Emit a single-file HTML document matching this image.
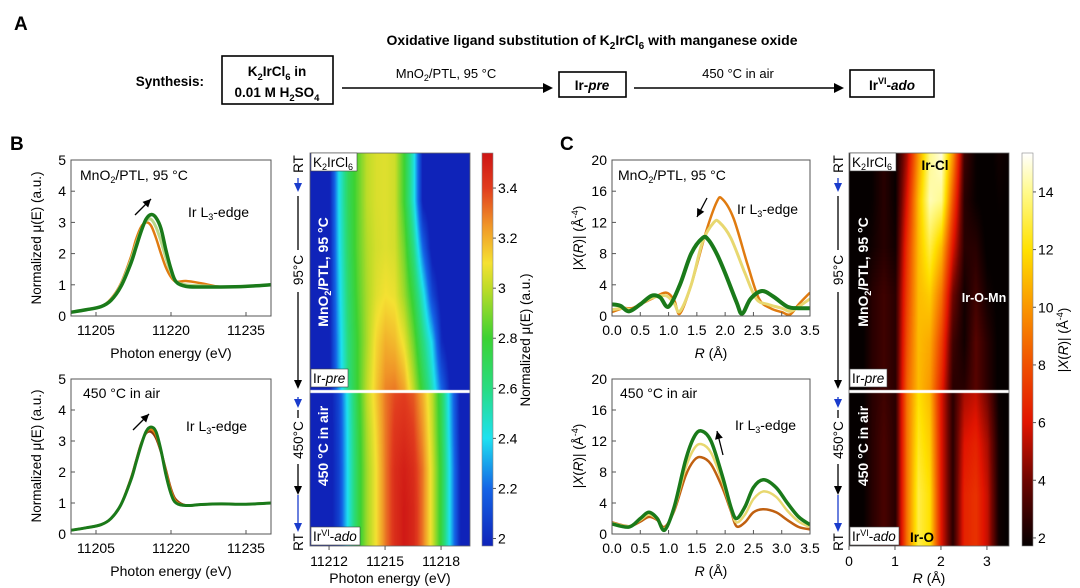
<!DOCTYPE html>
<html><head><meta charset="utf-8">
<style>
html,body{margin:0;padding:0;background:#fff;}
body{width:1080px;height:588px;overflow:hidden;position:relative;font-family:"Liberation Sans",Arial,sans-serif;}
svg text{font-family:"Liberation Sans",Arial,sans-serif;}
canvas{position:absolute;}
</style></head>
<body>
<svg id="fig" width="1080" height="588" viewBox="0 0 1080 588" style="position:absolute;left:0;top:0">
<g>
<text x="14" y="30" font-size="19" font-weight="bold">A</text>
<text x="592" y="45" font-size="14" font-weight="bold" text-anchor="middle">Oxidative ligand substitution of K<tspan font-size="10" dy="4">2</tspan><tspan dy="-4">IrCl</tspan><tspan font-size="10" dy="4">6</tspan><tspan dy="-4"> with manganese oxide</tspan></text>
<text x="204" y="86" font-size="13.5" font-weight="bold" text-anchor="end">Synthesis:</text>
<rect x="222" y="56" width="111" height="48" fill="none" stroke="#000" stroke-width="1.6"/>
<text x="277" y="76" font-size="13.5" font-weight="bold" text-anchor="middle">K<tspan font-size="9.5" dy="4">2</tspan><tspan dy="-4">IrCl</tspan><tspan font-size="9.5" dy="4">6</tspan><tspan dy="-4"> in</tspan></text>
<text x="277" y="97" font-size="13.5" font-weight="bold" text-anchor="middle">0.01 M H<tspan font-size="9.5" dy="4">2</tspan><tspan dy="-4">SO</tspan><tspan font-size="9.5" dy="4">4</tspan></text>
<line x1="342" y1="88" x2="545" y2="88" stroke="#000" stroke-width="1.6"/>
<polygon points="553,88 543,83 543,93" fill="#000"/>
<text x="446" y="78" font-size="13" text-anchor="middle">MnO<tspan font-size="9" dy="3">2</tspan><tspan dy="-3">/PTL, 95 °C</tspan></text>
<rect x="559" y="72" width="67" height="25" fill="none" stroke="#000" stroke-width="1.6"/>
<text x="592" y="90" font-size="13.5" font-weight="bold" text-anchor="middle">Ir-<tspan font-style="italic">pre</tspan></text>
<line x1="634" y1="88" x2="836" y2="88" stroke="#000" stroke-width="1.6"/>
<polygon points="844,88 834,83 834,93" fill="#000"/>
<text x="738" y="78" font-size="13" text-anchor="middle">450 °C in air</text>
<rect x="850" y="70" width="84" height="27" fill="none" stroke="#000" stroke-width="1.6"/>
<text x="892" y="90" font-size="13.5" font-weight="bold" text-anchor="middle">Ir<tspan font-size="9" dy="-6">VI</tspan><tspan dy="6">-</tspan><tspan font-style="italic">ado</tspan></text>
</g>
<text x="10" y="150" font-size="19" font-weight="bold">B</text>
<text x="560" y="150" font-size="19" font-weight="bold">C</text>
<g id="plots"></g>
</svg>
<canvas id="hmB" width="160" height="393" style="left:310px;top:153px"></canvas>
<canvas id="hmC" width="160" height="393" style="left:849px;top:153px"></canvas>
<svg id="over" width="1080" height="588" style="position:absolute;left:0;top:0"></svg>
<script>
// ===== Data: XANES (panel B) =====
const xanesE = [11200,11203,11206,11208,11210,11212,11213,11214,11215,11216,11217,11218,11219,11220,11221,11223,11226,11230,11235,11240];
const xanesTopOrange = [0.12,0.2,0.3,0.55,1.05,1.9,2.45,2.85,3.0,2.9,2.5,2.0,1.55,1.25,1.1,1.12,1.05,0.93,0.95,1.0];
const xanesTopYellow = [0.12,0.2,0.3,0.52,1.0,1.8,2.3,2.75,3.05,3.1,2.85,2.4,1.85,1.4,1.1,1.0,0.97,0.93,0.95,1.0];
const xanesTopGreen = [0.12,0.2,0.3,0.5,0.95,1.7,2.2,2.7,3.1,3.25,3.15,2.8,2.1,1.5,1.1,0.95,0.93,0.93,0.95,1.0];
const xanesBotBrown = [0.12,0.2,0.3,0.5,0.95,1.8,2.35,2.9,3.25,3.3,3.1,2.65,2.05,1.45,1.1,0.92,0.95,0.97,0.96,1.0];
const xanesBotOrange = [0.12,0.2,0.3,0.5,0.95,1.78,2.32,2.88,3.27,3.38,3.2,2.68,2.0,1.4,1.05,0.92,0.95,0.97,0.96,1.0];
const xanesBotGreen = [0.12,0.2,0.3,0.5,0.95,1.75,2.3,2.85,3.3,3.45,3.3,2.7,1.9,1.3,1.0,0.92,0.95,0.97,0.96,1.0];
const xanesXTicks = [11205,11220,11235];
const xanesYTicks = [0,1,2,3,4,5];
// ===== Data: EXAFS (panel C) =====
const exTopOrangeR = [0,0.2,0.35,0.5,0.7,0.95,1.1,1.2,1.4,1.65,1.85,1.95,2.15,2.4,2.6,2.8,3.0,3.15,3.3,3.5];
const exTopOrange = [0.5,1.0,1.0,1.5,2.2,3.0,2.0,0.3,4.0,10.5,14.6,15.0,12.5,6.5,2.2,1.0,0.5,0.2,1.5,3.0];
const exTopYellowR = [0,0.2,0.35,0.5,0.7,0.95,1.1,1.2,1.4,1.6,1.8,1.9,2.1,2.35,2.55,2.75,3.0,3.15,3.3,3.5];
const exTopYellow = [0.8,1.0,0.8,1.5,2.3,2.6,1.6,0.6,4.0,9.5,12.0,12.0,10,5.5,2.2,1.5,1.0,0.6,1.2,2.2];
const exTopGreenR = [0,0.15,0.3,0.5,0.7,0.85,1.0,1.2,1.4,1.6,1.7,1.85,2.0,2.2,2.3,2.45,2.65,2.85,3.1,3.3,3.5];
const exTopGreen = [1.5,1.3,0.6,1.5,2.6,2.4,1.2,4.0,8.0,10.0,9.8,8.0,5.5,1.8,0.3,2.2,3.2,2.5,1.2,1.0,1.0];
const exBotR = [0,0.3,0.5,0.65,0.8,0.93,1.1,1.3,1.45,1.58,1.75,1.95,2.1,2.2,2.35,2.5,2.68,2.9,3.1,3.3,3.5];
const exBotOrange = [1.5,1.0,1.6,2.2,1.8,0.9,3.0,7.5,9.5,9.9,9.0,6.0,3.0,1.0,1.5,2.8,3.2,2.8,1.8,0.9,0.6];
const exBotYellow = [1.4,1.0,1.8,2.5,1.9,0.7,3.2,8.5,11.0,11.6,10.5,6.8,3.2,1.5,2.5,4.5,5.5,4.8,3.0,1.6,0.9];
const exBotGreen = [1.3,0.9,2.0,2.8,2.0,0.5,3.5,9.5,12.5,13.3,12.0,7.5,3.5,2.0,3.5,6.0,7.0,6.0,4.0,2.2,1.2];
const exXTicks = [0,0.5,1,1.5,2,2.5,3,3.5];
const exXTickLabels = ["0.0","0.5","1.0","1.5","2.0","2.5","3.0","3.5"];
const exYTicks = [0,4,8,12,16,20];
// ===== Data: heatmap B (normalized mu) =====
const hmBEnergies = [11211,11212,11212.5,11213,11213.5,11214,11214.5,11215,11215.5,11216,11216.5,11217,11217.5,11218,11218.5,11219,11219.5];
const hmBTop = [
[1.9,1.95,2.4,2.7,2.85,3.0,3.05,3.06,3.03,2.8,2.45,1.95,1.9,1.9,1.9,1.9,1.9],
[1.9,1.95,2.4,2.7,2.85,3.0,3.05,3.06,3.03,2.8,2.45,1.95,1.9,1.9,1.9,1.9,1.9],
[1.9,1.95,2.38,2.68,2.85,2.98,3.04,3.06,3.04,2.88,2.6,2.2,1.92,1.9,1.9,1.9,1.9],
[1.9,1.95,2.35,2.65,2.83,2.97,3.06,3.1,3.08,2.95,2.75,2.45,2.1,1.92,1.9,1.9,1.9],
[1.9,1.95,2.32,2.62,2.8,2.97,3.12,3.2,3.18,3.08,2.88,2.62,2.38,2.0,1.9,1.9,1.9],
[1.9,1.95,2.3,2.6,2.8,3.0,3.15,3.28,3.3,3.22,3.0,2.75,2.5,2.2,1.95,1.9,1.9]];
const hmBBot = [
[1.9,1.92,2.1,2.45,2.75,3.0,3.15,3.3,3.38,3.4,3.35,3.2,3.0,2.7,2.3,1.95,1.9],
[1.9,1.92,2.09,2.43,2.73,2.97,3.12,3.3,3.42,3.45,3.4,3.25,3.02,2.72,2.32,1.96,1.9],
[1.9,1.92,2.08,2.42,2.72,2.95,3.1,3.3,3.45,3.5,3.45,3.3,3.05,2.75,2.35,1.98,1.9],
[1.9,1.92,2.08,2.42,2.72,2.95,3.1,3.3,3.45,3.52,3.47,3.3,3.05,2.75,2.35,1.98,1.9],
[1.9,1.92,2.08,2.42,2.72,2.95,3.1,3.3,3.45,3.52,3.47,3.3,3.05,2.75,2.35,1.98,1.9]];
const hmBXTicks = [11212,11215,11218];
const cbBTicks = [2,2.2,2.4,2.6,2.8,3,3.2,3.4];
// ===== Data: heatmap C (|X(R)|) =====
const hmCR = [0,0.25,0.5,0.75,1.0,1.25,1.5,1.75,2.0,2.25,2.5,2.75,3.0,3.25,3.48];
const hmCTop = [
[1.5,1.5,1.8,2.5,1.8,5,10,14,15,10,3,1.8,1.5,2,1.8],
[1.5,1.5,1.8,2.5,1.8,6,11,14.5,14,8,2.5,1.8,1.5,1.8,1.7],
[1.5,1.5,2,2.5,2,7,11,13,11,6,2.5,2.5,1.6,1.6,1.6],
[1.5,1.5,2.5,3,2.5,7.5,11,11.5,9,4,2,3,2,1.6,1.6],
[1.5,1.5,2.5,3,2.5,8,11,10.5,7.5,3,2,3.5,2.5,1.6,1.6],
[1.5,1.5,2.5,3,2.5,8.5,11,10,6.5,2.5,2.5,3.5,2.5,1.6,1.6]];
const hmCBot = [
[1.5,1.5,2.5,3,2.5,9,12,11,6,2.5,5,5.5,4,1.8,1.6],
[1.5,1.5,2.5,3.2,2.5,9,12.5,11.5,6,2.5,6,6.5,5,2,1.6],
[1.5,1.5,2.5,3.2,2.5,9,13,12,6,2.5,6.5,7,5.5,2,1.6],
[1.5,1.5,2.5,3.2,2.5,9,13,12,6,2.5,6.5,7,5.5,2,1.6]];
const hmCXTicks = [0,1,2,3];
const cbCTicks = [2,4,6,8,10,12,14];

const NS="http://www.w3.org/2000/svg";
const root=document.getElementById('plots');
function mk(tag,attrs,parent){const e=document.createElementNS(NS,tag);for(const k in attrs)e.setAttribute(k,attrs[k]);(parent||root).appendChild(e);return e;}
function txt(x,y,s,size,anchor,parent,extra){const t=mk('text',Object.assign({x:x,y:y,'font-size':size,'text-anchor':anchor||'middle'},extra||{}),parent);t.textContent=s;return t;}
function lin(d0,d1,p0,p1){return v=>p0+(v-d0)/(d1-d0)*(p1-p0);}
function smooth(pts){let d='M'+pts[0][0]+','+pts[0][1];for(let i=0;i<pts.length-1;i++){const p0=pts[Math.max(0,i-1)],p1=pts[i],p2=pts[i+1],p3=pts[Math.min(pts.length-1,i+2)];const c1x=p1[0]+(p2[0]-p0[0])/6,c1y=p1[1]+(p2[1]-p0[1])/6,c2x=p2[0]-(p3[0]-p1[0])/6,c2y=p2[1]-(p3[1]-p1[1])/6;d+=`C${c1x},${c1y} ${c2x},${c2y} ${p2[0]},${p2[1]}`;}return d;}

function axesPlot(cfg){
  const g=mk('g',{});
  
  
  const sx=lin(cfg.xmin,cfg.xmax,cfg.x0,cfg.x1), sy=lin(cfg.ymin,cfg.ymax,cfg.y1,cfg.y0);
  const clipId=cfg.name+'-clip';
  const cp=mk('clipPath',{id:clipId},g);mk('rect',{x:cfg.x0,y:cfg.y0,width:cfg.x1-cfg.x0,height:cfg.y1-cfg.y0},cp);
  const sg=mk('g',{'clip-path':`url(#${clipId})`},g);
  cfg.series.forEach(s=>{
    const p=mk('path',{d:smooth(s.x.map((v,i)=>[sx(v),sy(s.y[i])])),fill:'none',stroke:s.c,'stroke-width':s.w},sg);
    
    
  });
  mk('rect',{x:cfg.x0,y:cfg.y0,width:cfg.x1-cfg.x0,height:cfg.y1-cfg.y0,fill:'none',stroke:'#555','stroke-width':1},g);
  cfg.yt.forEach(v=>{const y=sy(v);mk('line',{x1:cfg.x0,x2:cfg.x0+4,y1:y,y2:y,stroke:'#555'},g);const t=txt(cfg.x0-5,y+5,String(v),14,'end',g);});
  cfg.xt.forEach((v,i)=>{const x=sx(v);mk('line',{x1:x,x2:x,y1:cfg.y1,y2:cfg.y1-4,stroke:'#555'},g);const t=txt(x,cfg.y1+19,cfg.xl?cfg.xl[i]:String(v),14,'middle',g);});
  return {g,sx,sy};
}
const orng='#e07b10', yel='#e8d870', lgt='#b8d88a', grn='#1a7a1a';
const xanesCommon={xmin:11200,xmax:11240,x0:71,x1:271,ymin:0,ymax:5,xt:xanesXTicks,yt:xanesYTicks};
axesPlot(Object.assign({name:'xanes-top',y0:160,y1:316,series:[
 {x:xanesE,y:xanesTopOrange,c:orng,w:2.5,n:'xanes-top-initial'},
 {x:xanesE,y:xanesTopYellow,c:lgt,w:3,n:'xanes-top-mid'},
 {x:xanesE,y:xanesTopGreen,c:grn,w:3.5,n:'xanes-top-final'}]},xanesCommon));
axesPlot(Object.assign({name:'xanes-bottom',y0:379,y1:534,series:[
 {x:xanesE,y:xanesBotBrown,c:'#8a3a10',w:2.5,n:'xanes-bottom-initial'},
 {x:xanesE,y:xanesBotOrange,c:orng,w:2.5,n:'xanes-bottom-mid'},
 {x:xanesE,y:xanesBotGreen,c:grn,w:3,n:'xanes-bottom-final'}]},xanesCommon));
const exCommon={xmin:0,xmax:3.5,x0:612,x1:810,ymin:0,ymax:20,xt:exXTicks,xl:exXTickLabels,yt:exYTicks};
axesPlot(Object.assign({name:'exafs-top',y0:160,y1:316,series:[
 {x:exTopOrangeR,y:exTopOrange,c:orng,w:2.5,n:'exafs-top-initial'},
 {x:exTopYellowR,y:exTopYellow,c:yel,w:3,n:'exafs-top-mid'},
 {x:exTopGreenR,y:exTopGreen,c:grn,w:4,n:'exafs-top-final'}]},exCommon));
axesPlot(Object.assign({name:'exafs-bottom',y0:379,y1:534,series:[
 {x:exBotR,y:exBotOrange,c:'#c06010',w:2.5,n:'exafs-bottom-initial'},
 {x:exBotR,y:exBotYellow,c:yel,w:2.5,n:'exafs-bottom-mid'},
 {x:exBotR,y:exBotGreen,c:grn,w:3.5,n:'exafs-bottom-final'}]},exCommon));

function rot(x,y,s,size,name){const t=txt(x,y,s,size,'middle',root,{transform:`rotate(-90 ${x} ${y})`});return t;}
rot(41,238,'Normalized μ(E) (a.u.)',13.5,'xanes-top-y-title');
rot(41,456,'Normalized μ(E) (a.u.)',13.5,'xanes-bottom-y-title');
txt(171,358,'Photon energy (eV)',14);
txt(171,576,'Photon energy (eV)',14);
function rotY(x,y,name){const t=mk('text',{x:x,y:y,'font-size':13.5,'text-anchor':'middle',transform:`rotate(-90 ${x} ${y})`});t.innerHTML='|<tspan font-style="italic">X</tspan>(<tspan font-style="italic">R</tspan>)| (Å<tspan font-size="9" dy="-5">-4</tspan><tspan dy="5">)</tspan>';}
rotY(583,238,'exafs-top-y-title');rotY(583,456,'exafs-bottom-y-title');
function rlab(x,y,name){const t=mk('text',{x:x,y:y,'font-size':14,'text-anchor':'middle'});t.innerHTML='<tspan font-style="italic">R</tspan> (Å)';}
rlab(711,358,'exafs-top-x-title');rlab(711,576,'exafs-bottom-x-title');
function lab(x,y,html,size,name){const t=mk('text',{x:x,y:y,'font-size':size});t.innerHTML=html;return t;}
lab(80,180,'MnO<tspan font-size="9" dy="3">2</tspan><tspan dy="-3">/PTL, 95 °C</tspan>',14,'xanes-top-condition');
lab(188,217,'Ir L<tspan font-size="9" dy="3">3</tspan><tspan dy="-3">-edge</tspan>',14,'xanes-top-edge-label');
lab(83,398,'450 °C in air',14,'xanes-bottom-condition');
lab(186,431,'Ir L<tspan font-size="9" dy="3">3</tspan><tspan dy="-3">-edge</tspan>',14,'xanes-bottom-edge-label');
lab(618,180,'MnO<tspan font-size="9" dy="3">2</tspan><tspan dy="-3">/PTL, 95 °C</tspan>',14,'exafs-top-condition');
lab(737,214,'Ir L<tspan font-size="9" dy="3">3</tspan><tspan dy="-3">-edge</tspan>',14,'exafs-top-edge-label');
lab(735,430,'Ir L<tspan font-size="9" dy="3">3</tspan><tspan dy="-3">-edge</tspan>',14,'exafs-bottom-edge-label');
lab(620,398,'450 °C in air',14,'exafs-bottom-condition');
function arrow(x1,y1,x2,y2,col,name){const g=mk('g',{});mk('line',{x1,y1,x2,y2,stroke:col,'stroke-width':1.3},g);const a=Math.atan2(y2-y1,x2-x1),L=8,W=4;const p=[[x2,y2],[x2-L*Math.cos(a)+W*Math.sin(a),y2-L*Math.sin(a)-W*Math.cos(a)],[x2-L*Math.cos(a)-W*Math.sin(a),y2-L*Math.sin(a)+W*Math.cos(a)]];mk('polygon',{points:p.map(q=>q.join(',')).join(' '),fill:col},g);}
arrow(135,215,151,199,'#000','xanes-top-trend-arrow');
arrow(133,430,149,414,'#000','xanes-bottom-trend-arrow');
arrow(707,198,697,217,'#000','exafs-top-trend-arrow');
arrow(723,455,717,431,'#000','exafs-bottom-trend-arrow');

const jetStops=[[1.97,[15,35,185]],[2.2,[20,100,230]],[2.4,[30,225,240]],[2.6,[40,220,130]],[2.8,[60,210,50]],[3.0,[190,220,40]],[3.1,[245,225,50]],[3.25,[240,150,40]],[3.4,[225,60,30]],[3.54,[205,20,20]]];
const hotStops=[[1.72,[5,0,0]],[2.5,[40,0,0]],[4,[110,5,0]],[6,[225,20,0]],[8,[240,80,0]],[10,[250,150,0]],[12,[255,225,0]],[14,[255,250,140]],[15.35,[255,255,255]]];
function cmap(stops,v){if(v<=stops[0][0])return stops[0][1];for(let i=1;i<stops.length;i++){if(v<=stops[i][0]){const t=(v-stops[i-1][0])/(stops[i][0]-stops[i-1][0]);return stops[i-1][1].map((c,k)=>Math.round(c+(stops[i][1][k]-c)*t));}}return stops[stops.length-1][1];}

function drawHeat(canvasId,xs,xmin,xmax,sections,stops){
  const cv=document.getElementById(canvasId),ctx=cv.getContext('2d');
  const W=cv.width;const sx=lin(xmin,xmax,0,W);
  sections.forEach(sec=>{
    const rows=sec.data, nr=rows.length;
    const H=sec.h; const img=ctx.createImageData(W,H);
    for(let py=0;py<H;py++){
      const fr=(nr-1)*py/(H-1), r0=Math.floor(fr), r1=Math.min(nr-1,r0+1), tr=fr-r0;
      for(let px=0;px<W;px++){
        let j=0; while(j<xs.length-2 && sx(xs[j+1])<px) j++;
        const a=sx(xs[j]),b=sx(xs[j+1]); let tc=(px-a)/(b-a); tc=Math.max(0,Math.min(1,tc));
        const v0=rows[r0][j]+(rows[r0][j+1]-rows[r0][j])*tc, v1=rows[r1][j]+(rows[r1][j+1]-rows[r1][j])*tc;
        const c=cmap(stops,v0+(v1-v0)*tr), k=(py*W+px)*4;
        img.data[k]=c[0];img.data[k+1]=c[1];img.data[k+2]=c[2];img.data[k+3]=255;
      }
    }
    ctx.putImageData(img,0,sec.y);
  });
  ctx.fillStyle='#fff';ctx.fillRect(0,237,W,3);
}
drawHeat('hmB',hmBEnergies,11210.98,11219.55,[{data:hmBTop,y:0,h:237},{data:hmBBot,y:240,h:153}],jetStops);
drawHeat('hmC',hmCR,0,3.48,[{data:hmCTop,y:0,h:237},{data:hmCBot,y:240,h:153}],hotStops);

const ov=document.getElementById('over');
function om(tag,a){return mk(tag,a,ov);}
function otxt(x,y,s,size,anchor,extra){const t=om('text',Object.assign({x,y,'font-size':size,'text-anchor':anchor||'middle'},extra||{}));t.innerHTML=s;return t;}
function heatAxes(x0,x1,xmin,xmax,ticks,title,name){
  const sx=lin(xmin,xmax,x0,x1);
  om('rect',{x:x0,y:153,width:x1-x0,height:393,fill:'none',stroke:'#666','stroke-width':0.8});
  ticks.forEach(v=>{om('line',{x1:sx(v),x2:sx(v),y1:546,y2:550,stroke:'#555'});const t=otxt(sx(v),566,String(v),14);});
  const t=otxt((x0+x1)/2,583,title,14);
}
heatAxes(310,470,11210.98,11219.55,hmBXTicks,'Photon energy (eV)','heatmap-b');
heatAxes(849,1009,0,3.48,hmCXTicks,'<tspan font-style="italic">R</tspan> (Å)','heatmap-c');
function colorbar(x,stops,vmin,vmax,ticks,name){
  const sy=lin(vmin,vmax,546,153);
  const gid=name+'-grad';const defs=om('defs',{});const lg=mk('linearGradient',{id:gid,x1:0,y1:1,x2:0,y2:0},defs);
  stops.forEach(s=>{mk('stop',{offset:((s[0]-vmin)/(vmax-vmin)).toFixed(3),'stop-color':`rgb(${s[1].join(',')})`},lg);});
  const r=om('rect',{x:x,y:153,width:11,height:393,fill:`url(#${gid})`,stroke:'#888','stroke-width':0.6});
  
  ticks.forEach(v=>{om('line',{x1:x+11,x2:x+14,y1:sy(v),y2:sy(v),stroke:'#555'});const t=otxt(x+16,sy(v)+5,String(v),14,'start');});
}
colorbar(482,jetStops,1.97,3.54,cbBTicks,'colorbar-b');
colorbar(1022,hotStops,1.72,15.35,cbCTicks,'colorbar-c');
otxt(530,340,'Normalized μ(E) (a.u.)',13.5,'middle',{transform:'rotate(-90 530 340)',});
otxt(1068,340,'|<tspan font-style="italic">X</tspan>(<tspan font-style="italic">R</tspan>)| (Å<tspan font-size="9" dy="-5">-4</tspan><tspan dy="5">)</tspan>',13.5,'middle',{transform:'rotate(-90 1068 340)',});

function timeline(x,name){
  const g=om('g',{});
  const blue='#1a3ccc';
  function vline(y1,y2,c){mk('line',{x1:x,x2:x,y1,y2,stroke:c,'stroke-width':1.3},g);}
  function head(y,c){mk('polygon',{points:`${x-4},${y-9} ${x+4},${y-9} ${x},${y}`,fill:c},g);}
  function rt(y,s){const t=mk('text',{x:x+5,y:y,'font-size':13.5,'text-anchor':'middle',transform:`rotate(-90 ${x+5} ${y})`},g);t.textContent=s;}
  rt(164,'RT'); vline(178,190,blue); head(192,blue);
  vline(196,250,'#000'); rt(270,'95°C'); vline(292,380,'#000'); head(389,'#000');
  vline(397,402,blue); head(408,blue); vline(410,418,'#000'); rt(440,'450°C');
  vline(464,486,'#000'); head(495,'#000'); vline(495,524,blue); head(532,blue);
  rt(542,'RT');
}
timeline(298,'timeline-b');timeline(838,'timeline-c');

function boxLabel(x,y,w,html,name){const g=om('g',{});mk('rect',{x:x,y:y,width:w,height:18,fill:'#fff',stroke:'#444','stroke-width':0.6},g);const t=mk('text',{x:x+2,y:y+14,'font-size':13.5},g);t.innerHTML=html;}
const k2='K<tspan font-size="9" dy="3">2</tspan><tspan dy="-3">IrCl</tspan><tspan font-size="9" dy="3">6</tspan>';
const pre='Ir-<tspan font-style="italic">pre</tspan>';
const ado='Ir<tspan font-size="9" dy="-5">VI</tspan><tspan dy="5">-</tspan><tspan font-style="italic">ado</tspan>';
boxLabel(311,153,46,k2,'heatmap-b-start-label');boxLabel(311,369,37,pre,'heatmap-b-pre-label');boxLabel(311,527,49,ado,'heatmap-b-ado-label');
boxLabel(850,153,46,k2,'heatmap-c-start-label');boxLabel(850,369,37,pre,'heatmap-c-pre-label');boxLabel(850,527,49,ado,'heatmap-c-ado-label');
otxt(328,272,'MnO<tspan font-size="9" dy="3">2</tspan><tspan dy="-3">/PTL, 95 °C</tspan>',14,'middle',{fill:'#fff','font-weight':'bold',transform:'rotate(-90 328 272)',});
otxt(328,446,'450 °C in air',14,'middle',{fill:'#fff','font-weight':'bold',transform:'rotate(-90 328 446)',});
otxt(868,272,'MnO<tspan font-size="9" dy="3">2</tspan><tspan dy="-3">/PTL, 95 °C</tspan>',14,'middle',{fill:'#fff','font-weight':'bold',transform:'rotate(-90 868 272)',});
otxt(868,446,'450 °C in air',14,'middle',{fill:'#fff','font-weight':'bold',transform:'rotate(-90 868 446)',});
otxt(935,170,'Ir-Cl',13.5,'middle',{'font-weight':'bold',});
otxt(984,302,'Ir-O-Mn',12.5,'middle',{'font-weight':'bold',fill:'#fff',});
otxt(922,542,'Ir-O',13.5,'middle',{'font-weight':'bold',});
</script>
</body></html>
